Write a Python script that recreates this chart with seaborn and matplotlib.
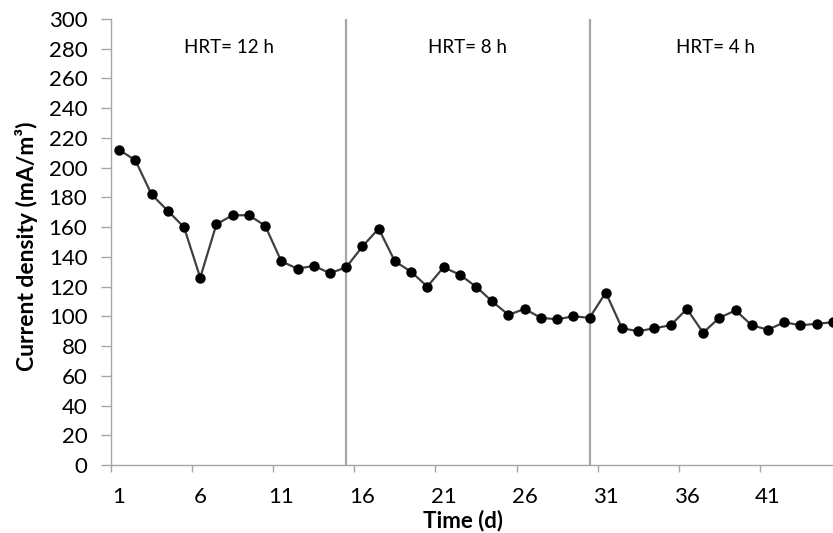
import matplotlib
matplotlib.use("Agg")
import matplotlib.pyplot as plt
import seaborn as sns
import pandas as pd
import numpy as np

# ---- data ----
days = list(range(1, 46))
current_density = [212, 205, 182, 171, 160, 126, 162, 168, 168, 161,
                   137, 132, 134, 129, 133, 147, 159, 137, 130, 120,
                   133, 128, 120, 110, 101, 105, 99, 98, 100, 99,
                   116, 92, 90, 92, 94, 105, 89, 99, 104, 94,
                   91, 96, 94, 95, 96]
hrt_boundaries = [15, 30]
hrt_labels = ["HRT= 12 h", "HRT= 8 h", "HRT= 4 h"]
hrt_label_x = [7.75, 22.5, 37.75]
x_tick_labels = ["1", "6", "11", "16", "21", "26", "31", "36", "41"]

df = pd.DataFrame({"day": days, "cd": current_density})

sns.set_theme(style="white")
plt.rcParams["font.family"] = ["Lato", "DejaVu Sans"]
plt.rcParams["text.color"] = "black"
plt.rcParams["xtick.labelcolor"] = "black"
plt.rcParams["ytick.labelcolor"] = "black"

W, H = 833, 533
fig = plt.figure(figsize=(W / 100, H / 100), dpi=100)
ax = fig.add_axes([111 / W, 68 / H, 730 / W, 446 / H])

grey = "#A6A6A6"
for b in hrt_boundaries:
    ax.axvline(b, color=grey, lw=1.6, zorder=1)

sns.lineplot(data=df, x="day", y="cd", ax=ax, color="#404040", lw=1.6,
             marker="o", markersize=7.5, markerfacecolor="black",
             markeredgecolor="black", markeredgewidth=0, zorder=3)

for lx, lab in zip(hrt_label_x, hrt_labels):
    ax.text(lx, 281, lab, ha="center", va="center", fontsize=13.5, color="black")

ax.set_xlim(0.5, 45.5)
ax.set_ylim(0, 300)
ax.set_yticks(np.arange(0, 301, 20))

label_pos = [int(s) for s in x_tick_labels]
ax.set_xticks([p - 0.5 for p in label_pos] + [45.5])
ax.set_xticklabels([])
ax.set_xticks(label_pos, x_tick_labels, minor=True)

ax.tick_params(axis="y", which="major", length=7, width=1, color=grey,
               direction="out", pad=10, labelsize=16, left=True)
ax.tick_params(axis="x", which="major", length=5, width=1, color=grey,
               direction="out", bottom=True)
ax.tick_params(axis="x", which="minor", length=0, pad=16, labelsize=16,
               bottom=True)

for s in ["top", "right"]:
    ax.spines[s].set_visible(False)
for s in ["left", "bottom"]:
    ax.spines[s].set_color(grey)
    ax.spines[s].set_linewidth(1)

ax.set_xlabel("")
ax.set_ylabel("")
fig.text(463 / W, 1 - 521 / H, "Time (d)", ha="center", va="center",
         fontsize=16, fontweight="bold")
fig.text(27 / W, 1 - 246 / H, "Current density (mA/m³)", ha="center",
         va="center", rotation=90, fontsize=16.5, fontweight="bold")

fig.savefig("out.png", dpi=100)
